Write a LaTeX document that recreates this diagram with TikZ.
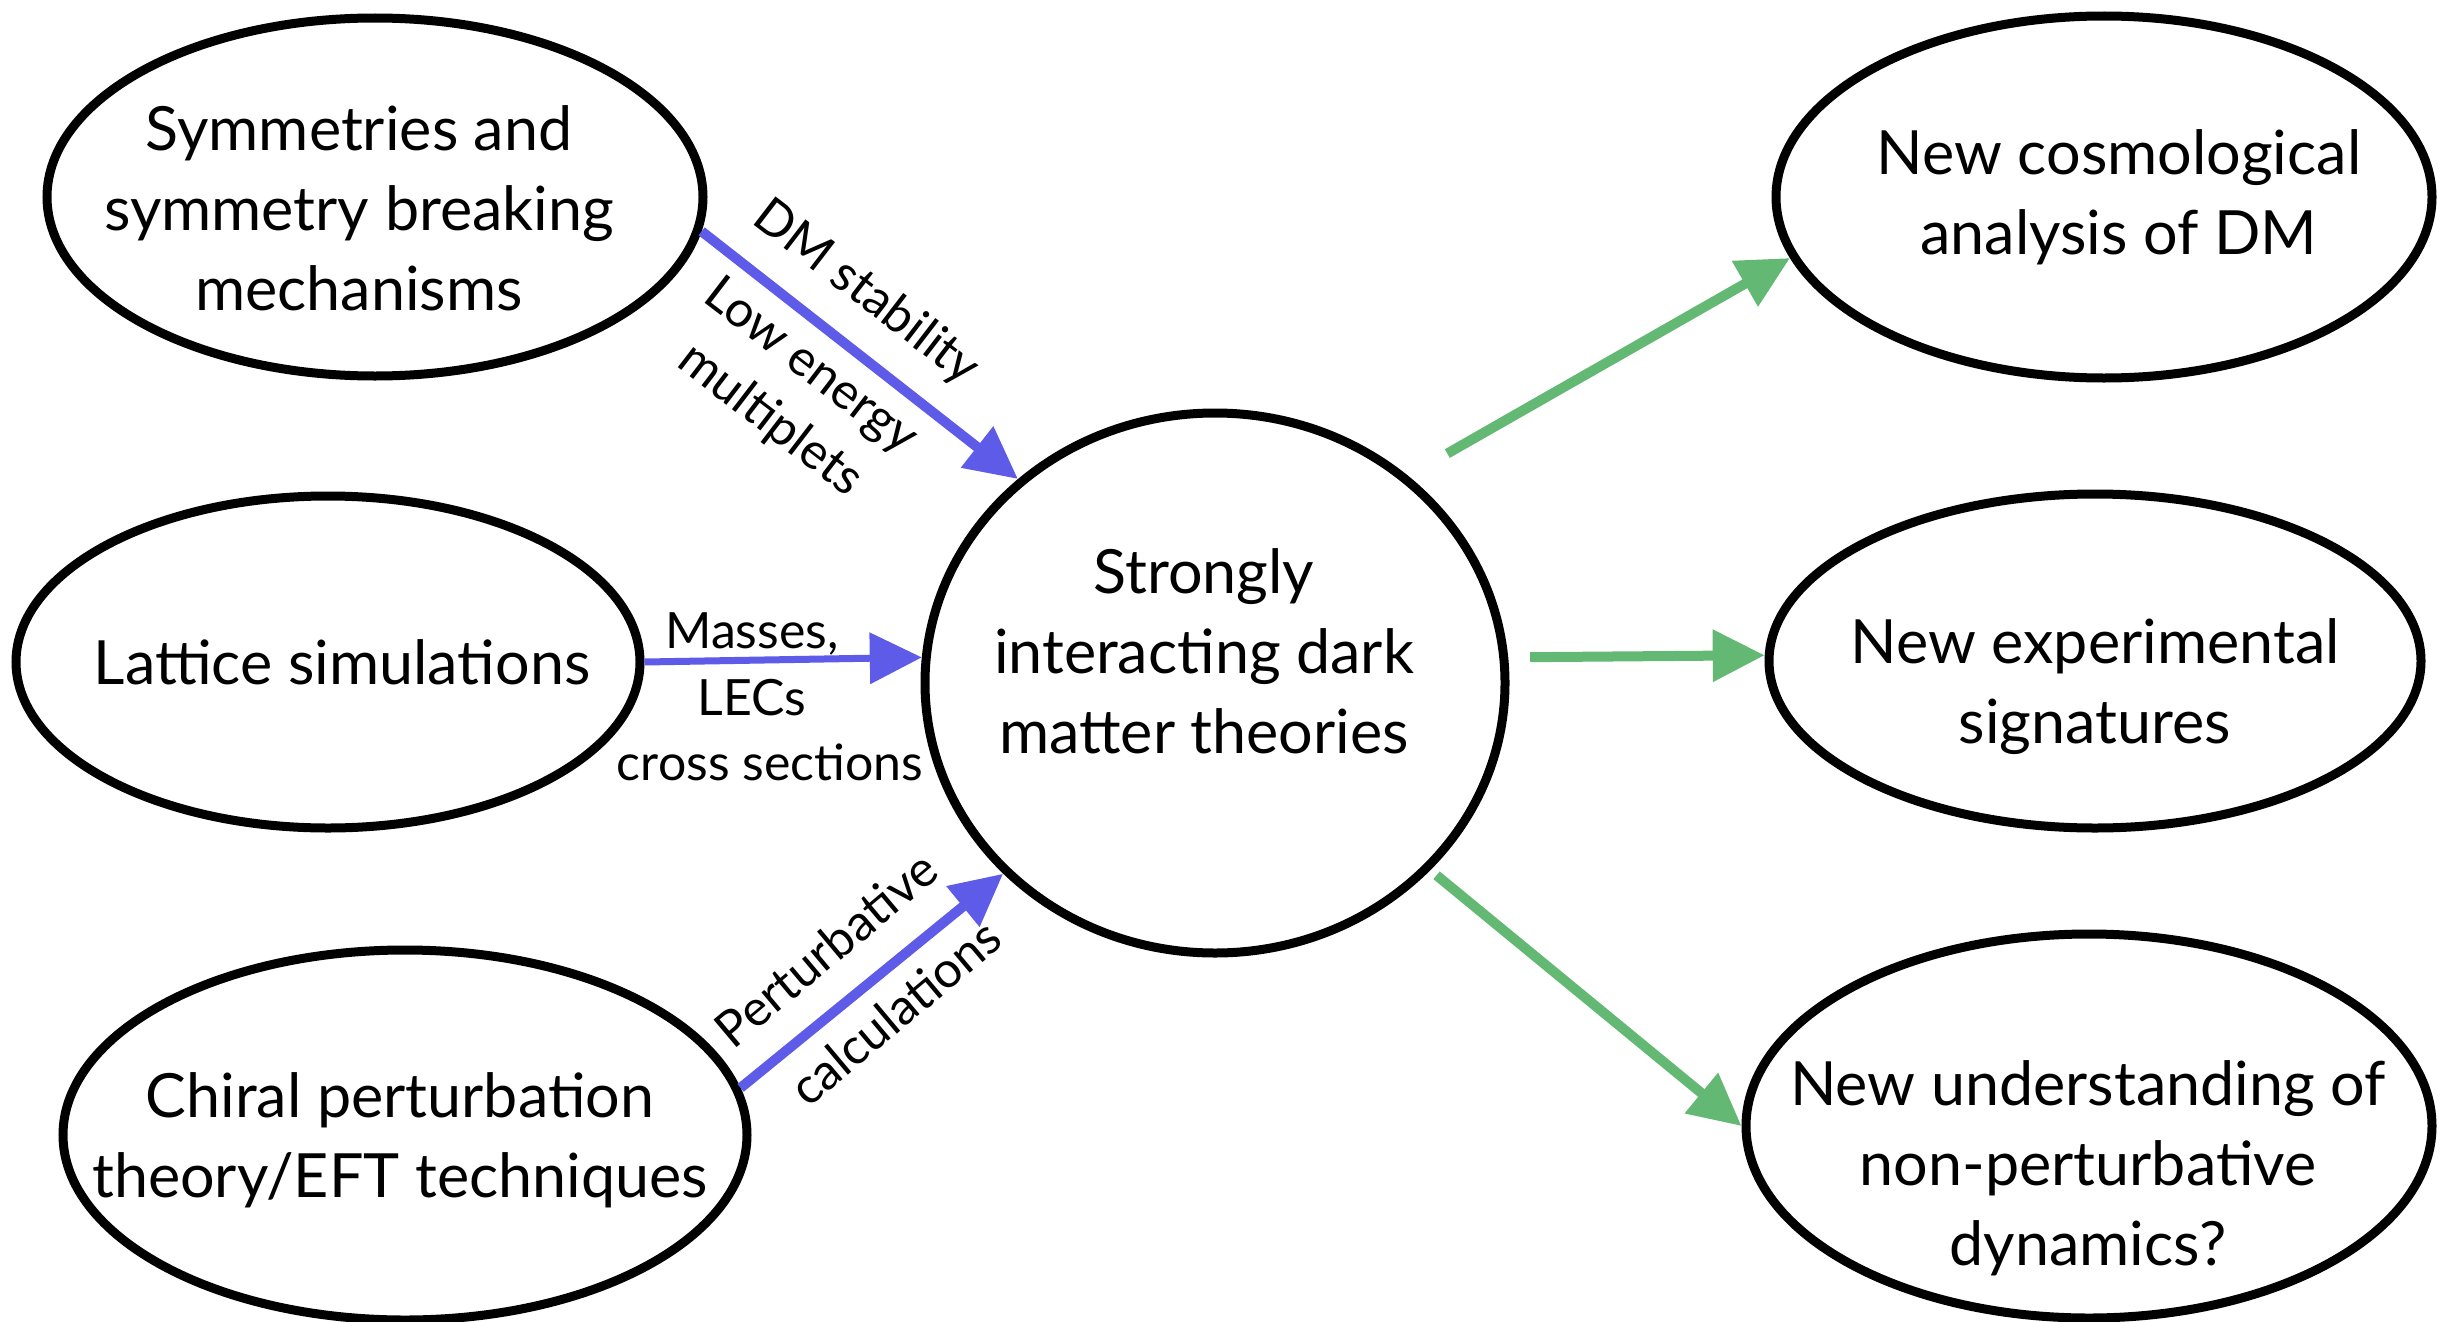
\documentclass[tikz,border=0pt]{standalone}
\usepackage{fontspec}
\setmainfont{Lato}
\usetikzlibrary{shapes.geometric,arrows.meta}
\definecolor{arrowblue}{RGB}{93,91,232}
\definecolor{arrowgreen}{RGB}{99,185,115}
\begin{document}
\begin{tikzpicture}[x=1pt,y=-1pt,
  bubble/.style={ellipse,draw=black,line width=9pt,inner sep=0pt},
  bubtext/.style={align=center,inner sep=0pt,font=\fontsize{61}{80}\selectfont},
  lbl/.style={align=center,inner sep=0pt,font=\fontsize{50}{67}\selectfont},
  bluearrow/.style={draw=arrowblue,line width=10pt,-{Triangle[length=52pt,width=50pt]}},
  greenarrow/.style={draw=arrowgreen,line width=10pt,-{Triangle[length=52pt,width=50pt]}}]
\useasboundingbox (0,0) rectangle (2449,1322);
% shapes
\node[bubble,minimum width=656pt,minimum height=358pt] (e1) at (375,197) {};
\node[bubble,minimum width=624pt,minimum height=332pt] (e2) at (328,662) {};
\node[bubble,minimum width=684pt,minimum height=370pt] (e3) at (405,1135) {};
\node[bubble,minimum width=580pt,minimum height=540pt] (c) at (1215,683) {};
\node[bubble,minimum width=656pt,minimum height=362pt] (r1) at (2104,197) {};
\node[bubble,minimum width=652pt,minimum height=334pt] (r2) at (2095,661) {};
\node[bubble,minimum width=686pt,minimum height=384pt] (r3) at (2089,1126) {};
% texts
\node[bubtext] (t1) at (359,208) {Symmetries and\\symmetry breaking\\mechanisms};
\node[bubtext] (t2) at (342,662) {Lattice simulations};
\node[bubtext] (t3) at (400,1140) {Chiral perturbation\\theory/EFT techniques};
\node[bubtext] (tc) at (1204,651) {Strongly\\interacting dark\\matter theories};
\node[bubtext] (tr1) at (2119,197) {New cosmological\\analysis of DM};
\node[bubtext] (tr2) at (2095,687) {New experimental\\signatures};
\node[bubtext] (tr3) at (2088,1168) {New understanding of\\non-perturbative\\dynamics?};
% connectors
\draw[bluearrow] (e1.-6) -- (c.134);
\draw[bluearrow,line width=7pt] (e2.east) -- (c.175);
\draw[bluearrow] (e3.8) -- (c.222);
\draw[greenarrow,shorten <=45pt] (c.47) -- (r1.191);
\draw[greenarrow,shorten <=22pt] (c.5) -- (r2.179);
\draw[greenarrow,shorten <=8pt] (c.-41) -- (r3.west);
% labels
\node[lbl,rotate=-37.5] (l1) at (866,293) {DM stability};
\node[lbl,rotate=-37.5] (l2) at (790,394) {Low energy\\multiplets};
\node[lbl] (l3) at (752,664) {Masses,\\LECs};
\node[lbl] (l4) at (770,762) {cross sections};
\node[lbl,rotate=40] (l5a) at (826,949) {Perturbative};
\node[lbl,rotate=40] (l5b) at (895,1012) {calculations};
\end{tikzpicture}
\end{document}
